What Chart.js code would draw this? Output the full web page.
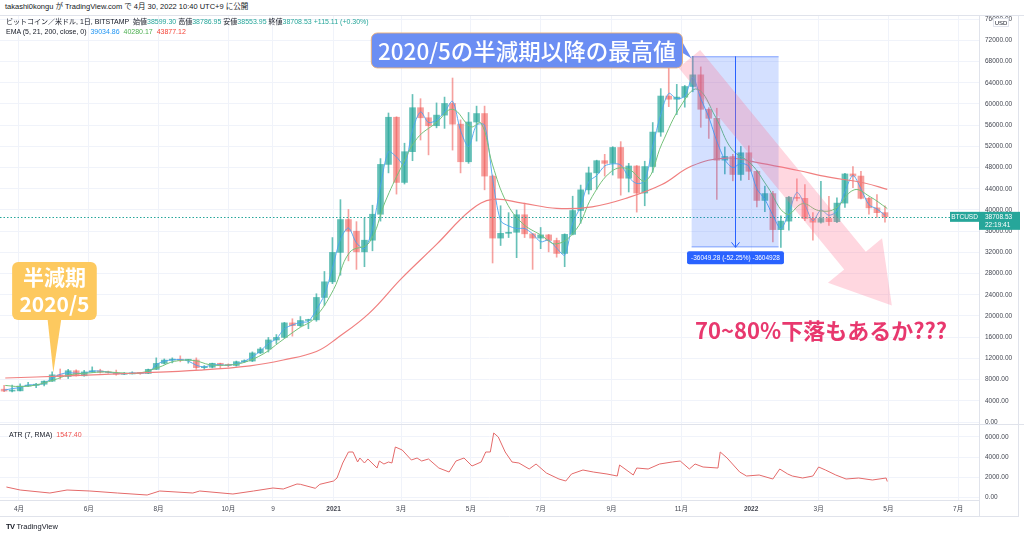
<!DOCTYPE html>
<html>
<head>
<meta charset="utf-8" />
<script src="https://cdn.jsdelivr.net/npm/chart.js@4.4.0/dist/chart.umd.min.js"></script>
<style>
  body{margin:0;background:#fff;width:1024px;height:537px;overflow:hidden;position:relative;
       font-family:'Liberation Sans','Noto Sans CJK JP',sans-serif;color:#131722;}
  #mainBox{position:absolute;left:0;top:15px;width:1024px;height:419px;z-index:2;}
  #atrBox{position:absolute;left:0;top:424px;width:1024px;height:93px;z-index:1;}
  .txt{position:absolute;white-space:nowrap;font-size:7px;line-height:1;z-index:3;}
  .g{color:#26a69a;}
</style>
</head>
<body>
<div class="txt" style="left:5px;top:3px;font-size:7.5px">takashi0kongu が TradingView.com で 4月 30, 2022 10:40 UTC+9 に公開</div>
<div class="txt" style="left:6px;top:18px">ビットコイン／米ドル, 1日, BITSTAMP&nbsp; 始値<span class="g">38599.30</span>&nbsp;高値<span class="g">38786.95</span>&nbsp;安値<span class="g">38553.95</span>&nbsp;終値<span class="g">38708.53</span>&nbsp;<span class="g">+115.11 (+0.30%)</span></div>
<div class="txt" style="left:6px;top:28px">EMA (5, 21, 200, close, 0)&nbsp; <span style="color:#2196f3">39034.86</span>&nbsp; <span style="color:#4caf50">40280.17</span>&nbsp; <span style="color:#f44336">43877.12</span></div>
<div class="txt" style="left:9px;top:431px">ATR (7, RMA)&nbsp; <span style="color:#ef5350">1547.40</span></div>
<div class="txt" style="left:6px;top:523px;font-size:7.5px"><b style="letter-spacing:-0.5px">TV</b> TradingView</div>

<div id="mainBox"><canvas id="mainChart" width="1024" height="419"></canvas></div>
<div id="atrBox"><canvas id="atrChart" width="1024" height="93"></canvas></div>

<script>
const FONT = "'Liberation Sans','Noto Sans CJK JP',sans-serif";
const CJK = "'Noto Sans CJK JP',sans-serif";
const UP = 'rgba(38,166,154,0.7)', DN = 'rgba(239,83,80,0.55)', TEAL = '#26a69a', LINE = '#e0e3eb';

// weekly candles (week start, Monday)
const weeks = [
 '2020-03-16','2020-03-23','2020-03-30','2020-04-06','2020-04-13','2020-04-20','2020-04-27','2020-05-04','2020-05-11','2020-05-18',
 '2020-05-25','2020-06-01','2020-06-08','2020-06-15','2020-06-22','2020-06-29','2020-07-06','2020-07-13','2020-07-20','2020-07-27',
 '2020-08-03','2020-08-10','2020-08-17','2020-08-24','2020-08-31','2020-09-07','2020-09-14','2020-09-21','2020-09-28','2020-10-05',
 '2020-10-12','2020-10-19','2020-10-26','2020-11-02','2020-11-09','2020-11-16','2020-11-23','2020-11-30','2020-12-07','2020-12-14',
 '2020-12-21','2020-12-28',
 '2021-01-04','2021-01-11','2021-01-18','2021-01-25','2021-02-01','2021-02-08','2021-02-15','2021-02-22','2021-03-01','2021-03-08',
 '2021-03-15','2021-03-22','2021-03-29','2021-04-05','2021-04-12','2021-04-19','2021-04-26','2021-05-03','2021-05-10','2021-05-17',
 '2021-05-24','2021-05-31','2021-06-07','2021-06-14','2021-06-21','2021-06-28','2021-07-05','2021-07-12','2021-07-19','2021-07-26',
 '2021-08-02','2021-08-09','2021-08-16','2021-08-23','2021-08-30','2021-09-06','2021-09-13','2021-09-20','2021-09-27','2021-10-04',
 '2021-10-11','2021-10-18','2021-10-25','2021-11-01','2021-11-08','2021-11-15','2021-11-22','2021-11-29','2021-12-06','2021-12-13',
 '2021-12-20','2021-12-27',
 '2022-01-03','2022-01-10','2022-01-17','2022-01-24','2022-01-31','2022-02-07','2022-02-14','2022-02-21','2022-02-28','2022-03-07',
 '2022-03-14','2022-03-21','2022-03-28','2022-04-04','2022-04-11','2022-04-18','2022-04-25'];
const opens = [
 6190,5830,5880,6770,6900,7130,7700,8900,8570,9670,8720,9450,9670,9390,9300,9010,9070,9240,9160,9930,
 11050,11680,11850,11660,11700,10250,10330,11080,10780,10670,11380,11500,13030,13770,15480,15960,18700,18170,19150,19270,
 23500,26450,
 32000,38200,36000,32100,34300,39200,48600,57500,45200,51000,59300,57400,55900,57900,60100,56200,49100,56600,58200,46400,
 34700,35600,35800,39100,35500,34700,35300,34250,31800,35400,39900,43800,47000,49300,48800,51800,46000,48300,43200,48200,
 54700,61500,60900,61300,63300,65500,59000,57300,49400,50100,46700,50800,
 47300,41800,43100,36300,37900,42400,42200,38400,37700,38400,37800,41300,46800,46400,42200,40400,39500];
const highs = [
 6900,6950,7200,7470,7300,7760,9460,10000,9940,9850,9750,10400,9960,9610,9800,9360,9470,9300,9990,12100,
 11900,12100,12480,11800,12100,10650,11100,11100,10980,11500,11730,13230,14060,15950,16500,18800,19480,19900,19400,24200,
 28400,34800,
 41950,40100,37800,38500,40900,49700,58300,57600,52600,61800,61000,58400,60200,61300,64900,57000,58400,59600,59600,46600,
 40800,39500,40000,41300,35600,36700,35400,34700,35500,42600,44700,48100,49400,50500,51950,52900,48800,48400,49200,56500,
 62900,67000,63700,63500,69000,67000,59300,59200,51900,50500,52000,52100,
 47500,44500,43500,38900,42600,45900,44800,39500,45400,42600,42300,46900,48200,47300,42400,42900,40800];
const lows = [
 5700,5680,5860,6700,6470,6790,7650,8100,8200,8660,8640,9380,9230,9200,8830,8950,9060,9000,9120,9900,
 10950,11150,11350,11100,9900,9880,10200,10130,10400,10530,11200,11400,12900,13200,14800,15800,16200,18000,17600,19000,
 22000,26100,
 27700,30400,28800,29300,32300,37900,47000,43000,44900,49300,53200,50400,55500,55400,51300,47000,48800,53000,43800,30000,
 33300,34800,31000,34800,28800,32700,32100,31100,29300,35300,37500,43000,43900,46400,46600,42800,43400,39600,40800,47100,
 53900,59500,58000,59400,62300,55600,53500,42000,46800,45500,45600,45700,
 40600,39700,34000,32950,36200,41700,38000,34300,37500,37100,37600,40500,44200,42100,39200,38600,37700];
const closes = [
 5830,5880,6770,6900,7130,7700,8900,8570,9670,8720,9450,9670,9390,9300,9010,9070,9240,9160,9930,11050,
 11680,11850,11660,11700,10250,10330,11080,10780,10670,11380,11500,13030,13770,15480,15960,18700,18170,19150,19270,23500,
 26450,32000,
 38200,36000,32100,34300,39200,48600,57500,45200,51000,59300,57400,55900,57900,60100,56200,49100,56600,58200,46400,34700,
 35600,35800,39100,35500,34700,35300,34250,31800,35400,39900,43800,47000,49300,48800,51800,46000,48300,43200,48200,54700,
 61500,60900,61300,63300,65500,59000,57300,49400,50100,46700,50800,47300,
 41800,43100,36300,37900,42400,42200,38400,37700,38400,37800,41300,46800,46400,42200,40400,39500,38700];

// EMA 5 (weekly reading), EMA 21, EMA 200
const ema5 = [
 6000,6300,6500,7000,7000,7300,8300,9000,9300,9200,9200,9600,9600,9400,9200,9100,9250,9200,9400,10800,
 11500,11700,11800,11500,10700,10400,10800,10800,10700,11000,11450,12300,13400,14800,15700,17600,18300,18800,19000,21200,
 24000,29000,
 34500,36600,33800,32700,36500,44500,51000,50000,48500,55000,58500,56500,57000,58500,60500,55000,52000,56000,56000,46000,
 38000,37000,36500,36500,35500,34000,34300,32800,31500,37500,40700,45300,46500,48300,48700,48500,46200,45000,45500,52000,
 58000,62000,61000,61500,65000,61000,57500,53000,49500,48000,48800,48200,
 44000,42000,39000,36500,39500,43300,41000,38000,40000,39000,39800,43500,46500,44000,41000,40200,39000];
const ema21Dates = ['2020-03-20','2020-04-01','2020-04-15','2020-05-01','2020-05-15','2020-06-01','2020-06-15','2020-07-01','2020-07-15','2020-08-01',
 '2020-08-15','2020-09-01','2020-09-15','2020-10-01','2020-10-15','2020-11-01','2020-11-15','2020-12-01','2020-12-15','2021-01-01',
 '2021-01-15','2021-02-01','2021-02-15','2021-03-01','2021-03-15','2021-04-01','2021-04-15','2021-05-01','2021-05-10','2021-05-20',
 '2021-06-01','2021-06-15','2021-07-01','2021-07-15','2021-08-01','2021-08-15','2021-09-01','2021-09-15','2021-10-01','2021-10-15',
 '2021-11-01','2021-11-15','2021-12-01','2021-12-15','2022-01-01','2022-01-15','2022-02-01','2022-02-15','2022-03-01','2022-03-15',
 '2022-04-01','2022-04-15','2022-04-30'];
const ema21 = [6900,6700,6950,7900,8900,9250,9450,9250,9230,10300,
 11450,11600,10800,10750,11250,12900,15100,17600,19500,25000,
 32000,33800,41500,48000,53500,56500,59000,55700,56400,48500,
 41500,37500,35300,33600,36300,42500,47300,47800,45500,52500,
 59800,62800,57500,51500,48700,44500,39200,41200,39900,40200,
 43800,42500,40280];
const ema200Dates = ['2020-03-20','2020-05-13','2020-07-09','2020-09-06','2020-10-20','2020-11-18','2020-12-17','2021-01-04','2021-02-01','2021-03-01',
 '2021-04-01','2021-05-01','2021-05-20','2021-06-15','2021-07-15','2021-08-15','2021-09-15','2021-10-15','2021-11-10','2021-12-10',
 '2022-01-10','2022-02-10','2022-03-10','2022-04-10','2022-04-30'];
const ema200 = [8300,8700,9200,9800,10600,11700,13300,15800,20500,27000,
 33500,40000,42000,41300,40300,40600,42300,44800,48300,49800,
 48800,47500,46200,45100,43877];

// ATR (7, RMA)
const atrDates = ['2020-03-21','2020-04-02','2020-04-28','2020-05-13','2020-06-02','2020-06-26','2020-07-22','2020-08-02','2020-08-31','2020-09-06',
 '2020-10-05','2020-10-23','2020-11-09','2020-11-18','2020-11-30','2020-12-03','2020-12-16','2020-12-20',
 '2021-01-01','2021-01-04','2021-01-09','2021-01-14','2021-01-18','2021-01-22','2021-01-24','2021-01-28','2021-01-31','2021-02-08',
 '2021-02-10','2021-02-14','2021-02-18','2021-02-21','2021-02-24','2021-03-02','2021-03-10','2021-03-15','2021-03-19','2021-03-25',
 '2021-04-03','2021-04-12','2021-04-18','2021-04-25','2021-05-02','2021-05-10','2021-05-14','2021-05-18','2021-05-21','2021-05-25',
 '2021-05-31','2021-06-06','2021-06-12','2021-06-21','2021-06-27','2021-07-06','2021-07-17','2021-07-23','2021-07-28','2021-08-07',
 '2021-08-16','2021-08-28','2021-09-06','2021-09-08','2021-09-20','2021-09-23','2021-10-03','2021-10-13','2021-10-24','2021-10-31',
 '2021-11-08','2021-11-13','2021-11-20','2021-12-03','2021-12-05','2021-12-11','2021-12-22','2021-12-28',
 '2022-01-08','2022-01-20','2022-01-26','2022-02-02','2022-02-06','2022-02-15','2022-02-24','2022-03-01','2022-03-07','2022-03-16',
 '2022-03-25','2022-04-05','2022-04-17','2022-04-29','2022-04-30'];
const atr = [1000,700,400,700,600,400,200,600,400,600,300,600,900,800,1300,1270,870,1270,
 1600,1900,3400,4500,4500,3500,3900,3400,3800,2900,3600,3300,3500,3400,5000,4700,3700,3900,3600,3800,
 2900,2500,3600,3900,3100,3500,4500,4500,6400,6000,4500,3500,3400,2800,3300,2400,1800,1600,2300,2700,
 2500,2300,2100,3200,2200,2900,2800,3300,3500,3600,2800,3300,3000,2900,4500,3900,2500,2100,
 2200,1800,2800,2300,2100,1900,2100,3000,2700,2200,1800,1900,1700,1900,1550];

// axes
const priceTicks = [0,4000,8000,12000,16000,20000,24000,28000,32000,36000,40000,44000,48000,52000,56000,60000,64000,68000,72000,76000];
const atrTicks = [0,2000,4000,6000];
const timeTicks = ['2020-04-01','2020-06-01','2020-08-01','2020-10-01','2020-11-09','2021-01-01','2021-03-01','2021-05-01','2021-07-01',
 '2021-09-01','2021-11-01','2022-01-01','2022-03-01','2022-05-01','2022-07-01'];
const timeLabels = ['4月','6月','8月','10月','9','2021','3月','5月','7月','9月','11月','2022','3月','5月','7月'];
const LAST_PRICE = 38708.53;

const day = s => (Date.UTC(+s.slice(0,4), +s.slice(5,7)-1, +s.slice(8,10)) - Date.UTC(2020,3,1)) / 864e5;
const X_MIN = -16.6, X_MAX = 839.2;
const tickDays = timeTicks.map(day);

Chart.defaults.font.family = FONT;
Chart.defaults.font.size = 6.5;
Chart.defaults.color = '#434651';

function flatPad(s){ s.paddingTop = 0; s.paddingBottom = 0; s.paddingLeft = 0; s.paddingRight = 0; }

function xAxis(showLabels){
  return {
    type:'linear', min:X_MIN, max:X_MAX, offset:false,
    grid:{ color:'#f0f3fa', drawTicks:false, offset:false },
    border:{ display:showLabels, color:LINE },
    afterBuildTicks: s => { s.ticks = tickDays.map(v => ({ value:v })); },
    afterFit: s => { flatPad(s); s.height = showLabels ? 17 : 0; },
    ticks:{
      display:showLabels, autoSkip:false, maxRotation:0, padding:5,
      callback: (v, i) => timeLabels[i],
      font: c => ({ size:6.5, weight: (c.tick && /^20/.test(timeLabels[c.index])) ? 'bold' : 'normal' })
    }
  };
}
function yAxis(min, max, ticks){
  return {
    position:'right', min, max,
    grid:{ color:'#f0f3fa', drawTicks:false },
    border:{ display:true, color:LINE },
    afterBuildTicks: s => { s.ticks = ticks.map(v => ({ value:v })); },
    afterFit: s => { flatPad(s); s.width = 45; },
    ticks:{ padding:6, autoSkip:false, callback: v => v.toFixed(2) }
  };
}

function rrect(ctx, x, y, w, h, r){ ctx.beginPath(); ctx.roundRect(x, y, w, h, r); }

const notes = {
  id:'notes',
  afterDatasetsDraw(c){
    const { ctx, chartArea:a } = c;
    const X = s => c.scales.x.getPixelForValue(day(s));
    const Y = v => c.scales.y.getPixelForValue(v);
    ctx.save();
    ctx.beginPath(); ctx.rect(a.left, a.top, a.right - a.left, a.bottom - a.top); ctx.clip();

    // last price line
    const ly = Math.round(Y(LAST_PRICE)) + 0.5;
    ctx.strokeStyle = TEAL; ctx.lineWidth = 1; ctx.setLineDash([1.5, 2]);
    ctx.beginPath(); ctx.moveTo(a.left, ly); ctx.lineTo(a.right, ly); ctx.stroke();
    ctx.setLineDash([]);

    // price range from the high
    const l = X('2021-11-10'), r = X('2022-01-25'), t = Y(69000), b = Y(32950.72), m = Math.round((l + r) / 2) + 0.5;
    ctx.fillStyle = 'rgba(41,98,255,0.2)';
    ctx.fillRect(l, t, r - l, b - t);
    ctx.strokeStyle = 'rgba(41,98,255,0.5)';
    ctx.beginPath(); ctx.moveTo(l, t + 0.5); ctx.lineTo(r, t + 0.5); ctx.moveTo(l, b - 0.5); ctx.lineTo(r, b - 0.5); ctx.stroke();
    ctx.strokeStyle = '#2962ff';
    ctx.beginPath(); ctx.moveTo(m, t); ctx.lineTo(m, b);
    ctx.moveTo(m - 4, b - 5); ctx.lineTo(m, b); ctx.lineTo(m + 4, b - 5); ctx.stroke();

    // pink arrow
    const p0 = [X('2021-11-08'), Y(68500)], p1 = [X('2022-05-04'), Y(22000)];
    const dx = p1[0] - p0[0], dy = p1[1] - p0[1], len = Math.hypot(dx, dy);
    const ux = dx / len, uy = dy / len, nx = -uy, ny = ux;
    const hb = [p1[0] - ux * 58, p1[1] - uy * 58];
    const pt = (p, k) => [p[0] + nx * k, p[1] + ny * k];
    const poly = [pt(p0, 14), pt(hb, 14), pt(hb, 35), p1, pt(hb, -35), pt(hb, -14), pt(p0, -14)];
    ctx.fillStyle = 'rgba(255,110,145,0.28)';
    ctx.beginPath(); poly.forEach((q, i) => i ? ctx.lineTo(q[0], q[1]) : ctx.moveTo(q[0], q[1])); ctx.closePath(); ctx.fill();
    ctx.restore();

    ctx.save();
    // range label
    ctx.font = '6.5px ' + FONT;
    const lt = '-36049.28 (-52.25%) -3604928';
    const lw = ctx.measureText(lt).width + 8;
    ctx.fillStyle = '#2962ff'; rrect(ctx, m - lw / 2, b + 4, lw, 13, 2); ctx.fill();
    ctx.fillStyle = '#fff'; ctx.textAlign = 'center'; ctx.textBaseline = 'middle';
    ctx.fillText(lt, m, b + 10.5);

    // blue callout
    const bl = X('2021-02-03'), br = X('2021-11-02'), bt = Y(73400), bb = Y(66800);
    ctx.fillStyle = '#6b8ef3';
    ctx.beginPath(); ctx.moveTo(br - 3, bt + 4); ctx.lineTo(X('2021-11-10'), Y(68600)); ctx.lineTo(br - 3, bt + 18); ctx.closePath(); ctx.fill();
    rrect(ctx, bl, bt, br - bl, bb - bt, 6); ctx.fill();
    ctx.strokeStyle = 'rgba(235,175,120,0.9)'; ctx.lineWidth = 1; ctx.stroke();
    ctx.fillStyle = '#fff'; ctx.font = '500 22.5px ' + CJK;
    ctx.fillText('2020/5の半減期以降の最高値', (bl + br) / 2, (bt + bb) / 2 + 1);

    // orange callout
    const ol = X('2020-03-26'), or = X('2020-06-08'), ot = Y(30200), ob = Y(19250), oc = (ol + or) / 2;
    ctx.fillStyle = '#fdc95f';
    ctx.beginPath(); ctx.moveTo(oc - 7, ob - 2); ctx.lineTo(X('2020-05-01'), Y(9300)); ctx.lineTo(oc + 7, ob - 2); ctx.closePath(); ctx.fill();
    rrect(ctx, ol, ot, or - ol, ob - ot, 6); ctx.fill();
    ctx.fillStyle = '#fff'; ctx.font = 'bold 21px ' + CJK;
    ctx.fillText('半減期', oc, ot + 15);
    ctx.fillText('2020/5', oc, ot + 42);

    // pink question
    ctx.fillStyle = '#e8386e'; ctx.font = 'bold 22px ' + CJK; ctx.textAlign = 'left';
    ctx.fillText('70~80%下落もあるか???', X('2021-11-13'), Y(17200));
    ctx.restore();
  },
  afterDraw(c){
    const { ctx, chartArea:a } = c;
    const Y = v => c.scales.y.getPixelForValue(v);
    ctx.save();
    ctx.strokeStyle = LINE; ctx.lineWidth = 1;
    ctx.beginPath();
    ctx.moveTo(0, a.top + 0.5); ctx.lineTo(c.width, a.top + 0.5);
    ctx.moveTo(0, a.bottom + 0.5); ctx.lineTo(c.width, a.bottom + 0.5);
    ctx.moveTo(1018.5, a.top); ctx.lineTo(1018.5, a.bottom);
    ctx.stroke();

    const py = Y(LAST_PRICE);
    ctx.fillStyle = TEAL;
    ctx.fillRect(a.right - 29, py - 5, 29, 10);
    ctx.fillRect(a.right, py - 5, 41, 18);
    ctx.fillStyle = '#fff'; ctx.font = '6.5px ' + FONT; ctx.textBaseline = 'middle'; ctx.textAlign = 'center';
    ctx.fillText('BTCUSD', a.right - 14.5, py + 0.5);
    ctx.textAlign = 'left';
    ctx.fillText('38708.53', a.right + 6, py + 0.5);
    ctx.fillText('22:19:41', a.right + 6, py + 8.5);

    ctx.fillStyle = '#fff'; ctx.strokeStyle = LINE;
    ctx.fillRect(993, 3, 16, 9); ctx.strokeRect(993.5, 3.5, 15, 8);
    ctx.fillStyle = '#131722'; ctx.font = '6px ' + FONT; ctx.textAlign = 'center';
    ctx.fillText('USD', 1001, 8);
    ctx.restore();
  }
};

const atrFrame = {
  id:'atrFrame',
  afterDraw(c){
    const { ctx, chartArea:a } = c;
    ctx.save();
    ctx.strokeStyle = LINE; ctx.lineWidth = 1;
    ctx.beginPath();
    ctx.moveTo(a.right + 0.5, a.bottom); ctx.lineTo(a.right + 0.5, a.bottom + 17);
    ctx.moveTo(0, a.bottom + 16.5); ctx.lineTo(1019, a.bottom + 16.5);
    ctx.moveTo(1018.5, 0); ctx.lineTo(1018.5, a.bottom + 17);
    ctx.stroke();
    ctx.restore();
  }
};

const centers = weeks.map(w => day(w) + 3);
const candleColors = closes.map((v, i) => v >= opens[i] ? UP : DN);

new Chart(document.getElementById('mainChart'), {
  type:'bar',
  data:{
    datasets:[
      { type:'line', data: ema200Dates.map((d, i) => ({ x:day(d), y:ema200[i] })), borderColor:'#f07f7f', borderWidth:1.2, pointRadius:0, tension:0.4, order:0 },
      { type:'line', data: ema21Dates.map((d, i) => ({ x:day(d), y:ema21[i] })), borderColor:'#74c17a', borderWidth:1, pointRadius:0, tension:0.4, order:0 },
      { type:'line', data: centers.map((x, i) => ({ x, y:ema5[i] })), borderColor:'#4aa3f0', borderWidth:0.9, pointRadius:0, tension:0.3, order:0 },
      { data: centers.map((x, i) => ({ x, y:[opens[i], closes[i]] })), backgroundColor:candleColors, barThickness:6, minBarLength:1, grouped:false, order:1 },
      { data: centers.map((x, i) => ({ x, y:[lows[i], highs[i]] })), backgroundColor:candleColors, barThickness:1, grouped:false, order:2 }
    ]
  },
  options:{
    responsive:false, animation:false, events:[],
    layout:{ padding:{ left:0, right:0, top:0, bottom:10 } },
    plugins:{ legend:{ display:false }, tooltip:{ enabled:false } },
    scales:{ x: xAxis(false), y: yAxis(-377, 76790, priceTicks) }
  },
  plugins:[notes]
});

new Chart(document.getElementById('atrChart'), {
  type:'line',
  data:{ datasets:[{ data: atrDates.map((d, i) => ({ x:day(d), y:atr[i] })), borderColor:'#e46a6a', borderWidth:1, pointRadius:0, tension:0 }] },
  options:{
    responsive:false, animation:false, events:[],
    layout:{ padding:0 },
    plugins:{ legend:{ display:false }, tooltip:{ enabled:false } },
    scales:{ x: xAxis(true), y: yAxis(-300, 7300, atrTicks) }
  },
  plugins:[atrFrame]
});
</script>
</body>
</html>
